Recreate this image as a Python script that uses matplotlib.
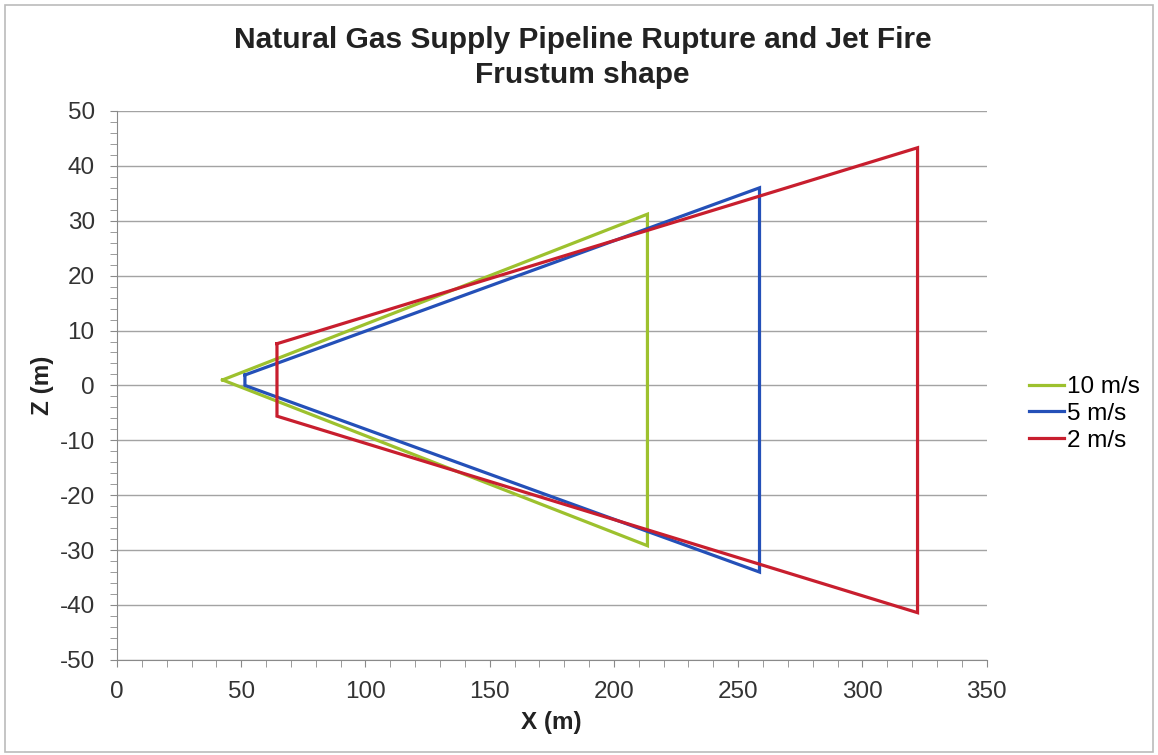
import matplotlib
matplotlib.use("Agg")
import matplotlib.pyplot as plt
from matplotlib.ticker import MultipleLocator
from matplotlib.patches import Rectangle

# frustum outlines (x, z) in metres
labels = ["10 m/s", "5 m/s", "2 m/s"]
colors = ["#9dc12e", "#2450b8", "#c81e2e"]
x_10 = [42.5, 213.5, 213.5, 42.5]
z_10 = [1.0, 31.2, -29.2, 1.0]
x_5 = [51.5, 258.6, 258.6, 51.5, 51.5]
z_5 = [1.9, 36.0, -34.0, 0.0, 1.9]
x_2 = [64.4, 322.2, 322.2, 64.4, 64.4]
z_2 = [7.6, 43.3, -41.4, -5.6, 7.6]

plt.rcParams["font.family"] = ["Liberation Sans", "DejaVu Sans"]
plt.rcParams["axes.unicode_minus"] = False
fig = plt.figure(figsize=(11.58, 7.55), dpi=100)
ax = fig.add_axes([0.101, 0.126, 0.751, 0.727])

for xs, zs, c, lab in zip([x_10, x_5, x_2], [z_10, z_5, z_2], colors, labels):
    ax.plot(xs, zs, color=c, lw=2.3, label=lab, solid_joinstyle="miter")

ax.set_xlim(0, 350); ax.set_ylim(-50, 50)
ax.xaxis.set_major_locator(MultipleLocator(50)); ax.xaxis.set_minor_locator(MultipleLocator(10))
ax.yaxis.set_major_locator(MultipleLocator(10)); ax.yaxis.set_minor_locator(MultipleLocator(2))
ax.grid(True, axis="y", color="#a3a3a3", lw=1.0)
ax.set_axisbelow(True)
for s in ["top", "right"]:
    ax.spines[s].set_visible(False)
for s in ["left", "bottom"]:
    ax.spines[s].set_color("#8a8a8a")
ax.tick_params(which="both", colors="#8a8a8a", labelcolor="#333333", labelsize=17.5,
               direction="out", length=5)
ax.tick_params(axis="x", which="major", pad=10)
ax.tick_params(axis="y", which="major", pad=11)

ax.set_xlabel("X (m)", fontsize=17.5, fontweight="bold", color="#222222", labelpad=6)
ax.set_ylabel("Z (m)", fontsize=17.5, fontweight="bold", color="#222222", labelpad=4)
fig.suptitle("Natural Gas Supply Pipeline Rupture and Jet Fire\nFrustum shape",
             x=0.503, y=0.966, fontsize=21.5, fontweight="bold", color="#222222", linespacing=1.32)
ax.legend(loc="center left", bbox_to_anchor=(1.049, 0.448), frameon=False, fontsize=17.5,
          handlelength=1.45, handletextpad=0.1, labelspacing=0.2, borderpad=0, borderaxespad=0)

fig.patches.append(Rectangle((0.004, 0.004), 0.992, 0.99, transform=fig.transFigure,
                             fill=False, edgecolor="#bbbbbb", lw=1.2))
fig.savefig("out.png", dpi=100)
